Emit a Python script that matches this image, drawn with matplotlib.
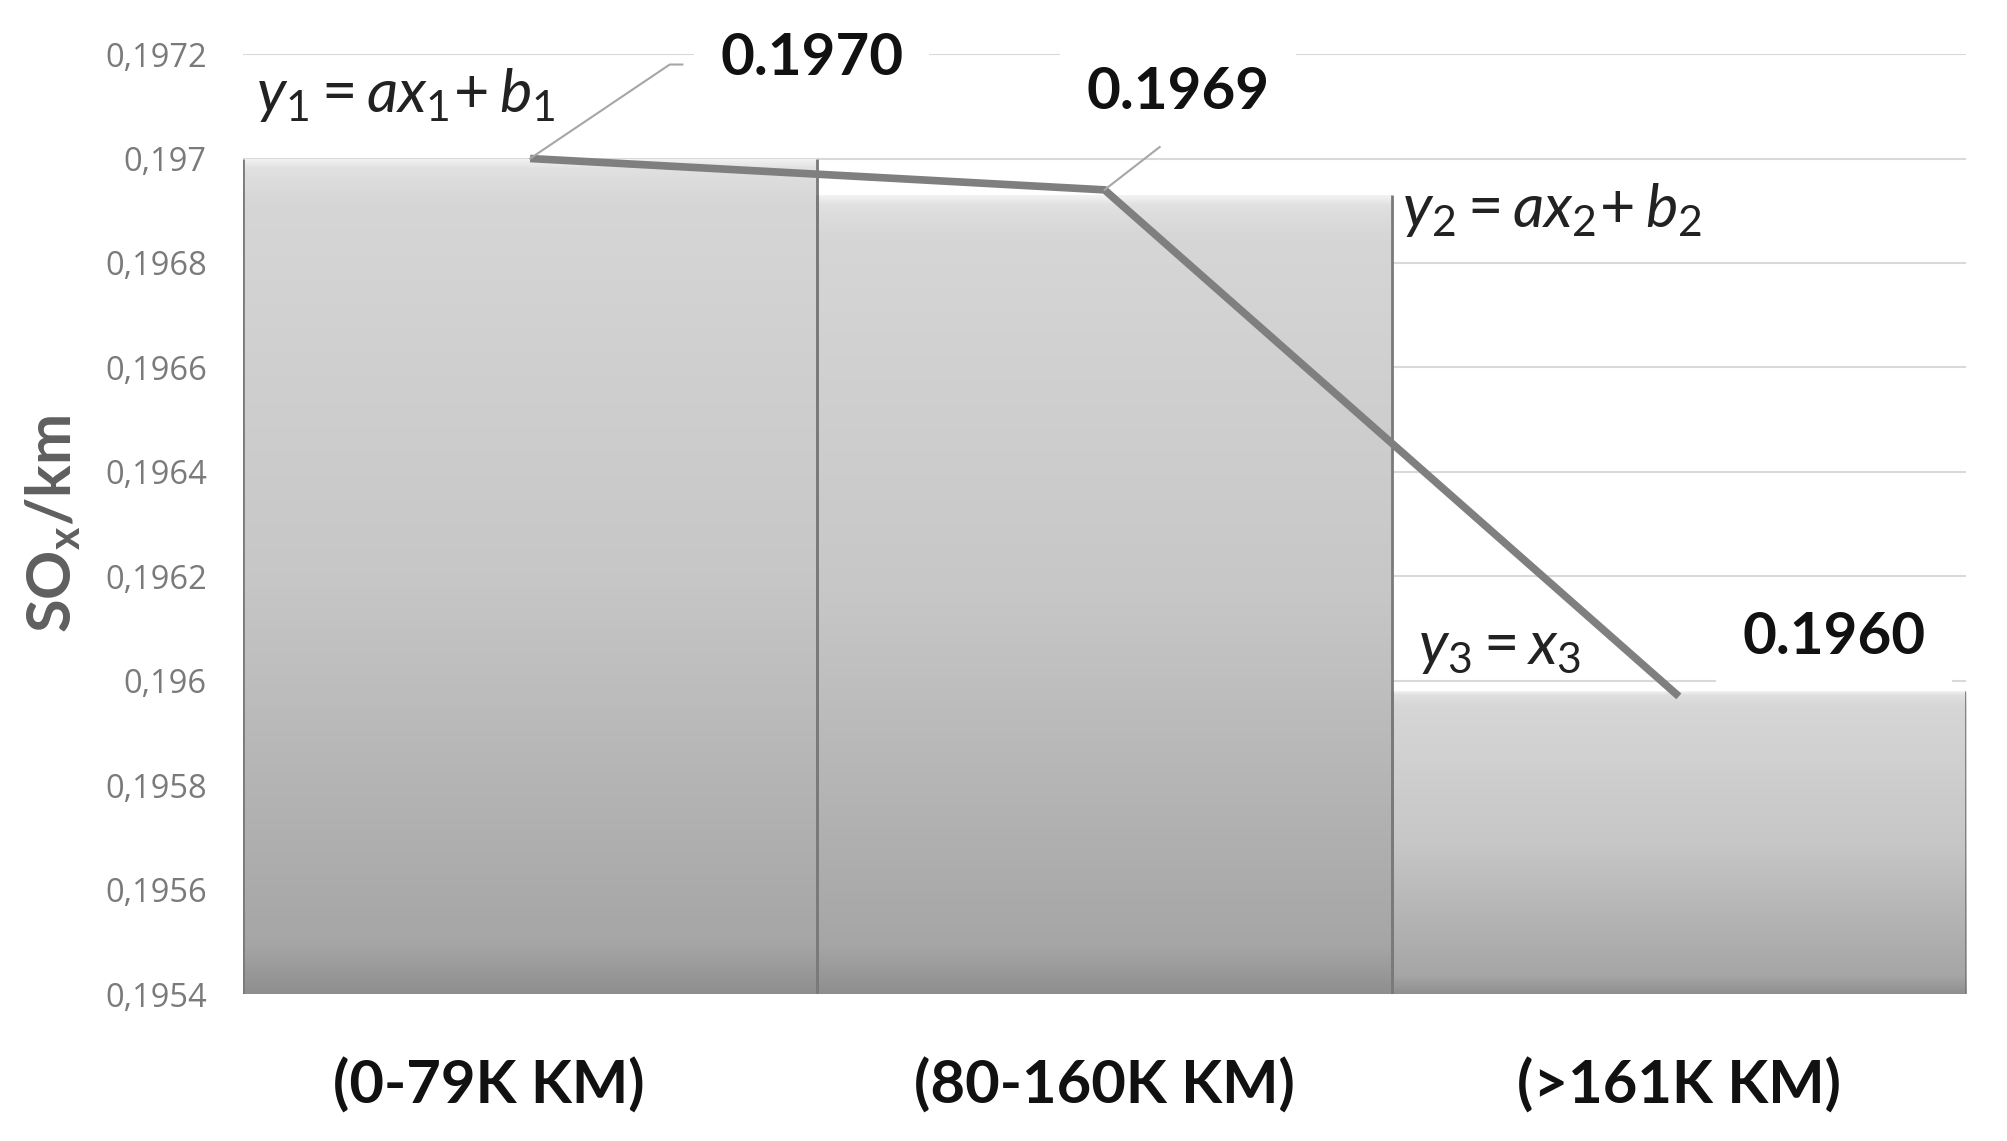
import numpy as np
import matplotlib.pyplot as plt
from matplotlib.transforms import ScaledTranslation

# data
categories = ['(0-79K KM)', '(80-160K KM)', '(>161K KM)']
bar_values = [0.19700, 0.19693, 0.19598]
line_values = [0.19700, 0.19694, 0.19597]
value_labels = ['0.1970', '0.1969', '0.1960']
y_ticks = [0.1954, 0.1956, 0.1958, 0.1960, 0.1962, 0.1964, 0.1966, 0.1968, 0.1970, 0.1972]
y_min, y_max = 0.1954, 0.1972

equations = [r'$y_1 = ax_1\!+ b_1$', r'$y_2 = ax_2\!+ b_2$', r'$y_3 = x_3$']

plt.rcParams['mathtext.fontset'] = 'custom'
plt.rcParams['mathtext.rm'] = 'Lato'
plt.rcParams['mathtext.it'] = 'Lato:italic'
plt.rcParams['mathtext.bf'] = 'Lato:bold'

fig = plt.figure(figsize=(20.08, 11.41), dpi=100)
ax = fig.add_axes([0.121, 0.1288, 0.8581, 0.8238])

x = np.arange(len(categories))
bars = ax.bar(x, np.array(bar_values) - y_min, bottom=y_min, width=1.0,
              color='none', edgecolor='none', zorder=2)

# vertical grey gradient inside every bar
stops = [0.0, 0.012, 0.05, 0.5, 0.94, 1.0]
greys = [0.95, 0.88, 0.84, 0.78, 0.65, 0.56]
grad = np.interp(np.linspace(0, 1, 500), stops, greys)
img = np.repeat(grad[:, None, None], 3, axis=2)
for b in bars:
    x0 = b.get_x()
    im = ax.imshow(img, extent=[x0, x0 + b.get_width(), b.get_y(), b.get_y() + b.get_height()],
                   aspect='auto', origin='upper', interpolation='bilinear', zorder=2)
    im.set_clip_path(b)
    ax.vlines([x0, x0 + b.get_width()], b.get_y(), b.get_y() + b.get_height(),
              color='#7a7a7a', lw=2, zorder=3)

ax.plot(x, line_values, color='#7f7f7f', lw=5.5, solid_capstyle='butt',
        solid_joinstyle='miter', zorder=4)

ax.set_xlim(-0.5, 2.5)
ax.set_ylim(y_min, y_max)
ax.set_yticks(y_ticks)
ax.set_yticklabels([f'{t:.4f}'.rstrip('0').replace('.', ',') for t in y_ticks],
                   fontsize=23.5, color='#7a7a7a', family='Open Sans')
ax.set_xticks(x)
ax.set_xticklabels(categories, fontsize=43, fontweight='bold', family='Lato', color='#111111')
ax.tick_params(axis='both', length=0)
ax.tick_params(axis='x', pad=46)
ax.tick_params(axis='y', pad=26)
lbl0 = ax.get_xticklabels()[0]
lbl0.set_transform(lbl0.get_transform() + ScaledTranslation(-0.41, 0, fig.dpi_scale_trans))

for s in ax.spines.values():
    s.set_visible(False)
ax.yaxis.grid(True, color='#d9d9d9', lw=1.5)
ax.set_axisbelow(True)

ax.set_ylabel(r'SO$_{\mathbf{x}}$/km', fontsize=44, fontweight='bold', family='Lato', color='#5f5f5f')
ax.yaxis.set_label_coords(-0.093, 0.5)

# value labels with leader lines
label_pos = [(0.49, 0.197192), (1.128, 0.197127), (2.27, 0.196082)]
leaders = [[(0.243, 0.19718), (0.265, 0.19718)], [(1.096, 0.197022)], []]
for i, (txt, (lx, ly)) in enumerate(zip(value_labels, label_pos)):
    ax.text(lx, ly, txt, fontsize=42, fontweight='bold', family='Lato', color='#111111',
            ha='center', va='center', zorder=6,
            bbox=dict(boxstyle='square,pad=0.45', fc='white', ec='none'))
    if leaders[i]:
        pts = [(x[i], line_values[i])] + leaders[i]
        ax.plot([p[0] for p in pts], [p[1] for p in pts], color='#a6a6a6', lw=1.5, zorder=5)

eq_pos = [(-0.477, 0.19712), (1.518, 0.19690), (1.546, 0.196064)]
for eq, (ex, ey) in zip(equations, eq_pos):
    ax.text(ex, ey, eq, fontsize=44, color='#222222', ha='left', va='center', zorder=6)

fig.savefig('out.png', dpi=100, facecolor='white')
